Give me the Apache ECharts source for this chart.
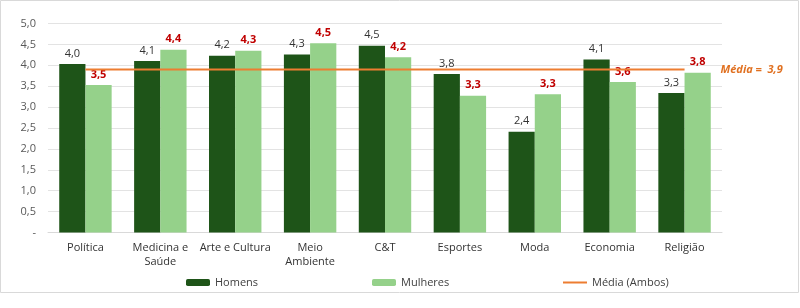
<!DOCTYPE html>
<html><head><meta charset="utf-8">
<script src="https://cdn.jsdelivr.net/npm/echarts@6/dist/echarts.min.js"></script>
<style>html,body{margin:0;padding:0;background:#fff}#c{width:800px;height:308px}</style>
</head><body><div id="c"></div>
<script>
const categories = ['Política', 'Medicina e\nSaúde', 'Arte e Cultura', 'Meio\nAmbiente', 'C&T', 'Esportes', 'Moda', 'Economia', 'Religião'];
const homens = [4.03, 4.10, 4.23, 4.26, 4.47, 3.79, 2.41, 4.14, 3.34];
const mulheres = [3.53, 4.37, 4.35, 4.53, 4.19, 3.27, 3.31, 3.60, 3.82];
const media = 3.9;
const mediaLine = categories.map(() => media);
const yTicks = ['-', '0,5', '1,0', '1,5', '2,0', '2,5', '3,0', '3,5', '4,0', '4,5', '5,0'];

const fmt = v => v.toFixed(1).replace('.', ',');
const font = '"Open Sans", "Liberation Sans", sans-serif';
const chart = echarts.init(document.getElementById('c'));
chart.setOption({
  animation: false,
  textStyle: { fontFamily: font },
  grid: { left: 48, right: 78, top: 23.5, bottom: 75.5 },
  graphic: [{ type: 'rect', shape: { x: 0.5, y: 0.5, width: 798, height: 292 }, style: { fill: 'none', stroke: '#d9d9d9', lineWidth: 1 }, silent: true }],
  legend: [
    { data: ['Homens'], left: 181, top: 272, itemWidth: 24, itemHeight: 7, textStyle: { fontSize: 11, color: '#404040', fontFamily: font } },
    { data: ['Mulheres'], left: 367, top: 272, itemWidth: 24, itemHeight: 7, textStyle: { fontSize: 11, color: '#404040', fontFamily: font } },
    { data: [{ name: 'Média (Ambos)', icon: 'rect' }], left: 558, top: 272, itemWidth: 24, itemHeight: 2, itemGap: 2, textStyle: { fontSize: 11, color: '#404040', fontFamily: font } }
  ],
  xAxis: {
    type: 'category', data: categories,
    axisLine: { lineStyle: { color: '#d9d9d9' } }, axisTick: { show: false },
    axisLabel: { fontSize: 11, color: '#333', lineHeight: 14, interval: 0, margin: 8, fontFamily: font }
  },
  yAxis: {
    type: 'value', min: 0, max: 5, interval: 0.5,
    axisLine: { show: false }, axisTick: { show: false },
    splitLine: { lineStyle: { color: '#e3e3e3' } },
    axisLabel: { fontSize: 11, color: '#595959', margin: 12, fontFamily: font,
      formatter: v => yTicks[Math.round(v / 0.5)] }
  },
  series: [
    { name: 'Homens', type: 'bar', data: homens, barGap: '0%', barCategoryGap: '30%',
      itemStyle: { color: '#1e5418' },
      label: { show: true, position: 'top', distance: 5, fontSize: 11, color: '#333', fontFamily: font, formatter: p => fmt(p.value) } },
    { name: 'Mulheres', type: 'bar', data: mulheres,
      itemStyle: { color: '#95d18a' },
      label: { show: true, position: 'top', distance: 5, fontSize: 11, color: '#c00000', fontWeight: 'bold', fontFamily: font, formatter: p => fmt(p.value) } },
    { name: 'Média (Ambos)', type: 'line', data: mediaLine, symbol: 'none', z: 5,
      itemStyle: { color: '#ed7d31' }, lineStyle: { color: '#ed7d31', width: 2 },
      endLabel: { show: true, formatter: 'Média =  ' + fmt(media), color: '#e07020', fontStyle: 'italic', fontWeight: 'bold', fontSize: 11, distance: 36, fontFamily: font } }
  ]
});
</script></body></html>
